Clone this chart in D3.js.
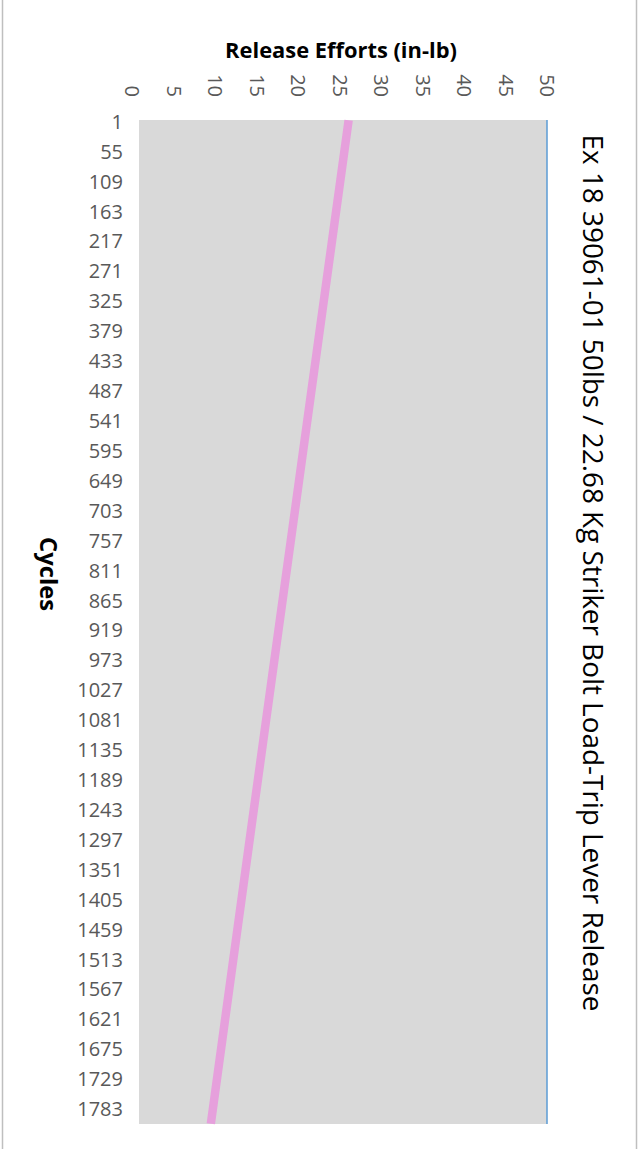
<!DOCTYPE html>
<html>
<head>
<meta charset="utf-8">
<script src="https://cdn.jsdelivr.net/npm/d3@7"></script>
<style>
  html, body { margin: 0; padding: 0; background: #fff; }
  svg { display: block; }
  .tick_lbl { font-family: "Open Sans", sans-serif; font-size: 20px; fill: #595959; }
  .ax_title { font-family: "Open Sans", sans-serif; font-size: 20px; font-weight: bold; fill: #000; }
  .chart_title { font-family: "Open Sans", sans-serif; font-size: 20px; fill: #000; }
</style>
</head>
<body>
<div id="chart"></div>
<script>
"use strict";

// Data
// ----

var cycleCount = 1812;

var cycleLabels = [1, 55, 109, 163, 217, 271, 325, 379, 433, 487, 541, 595,
  649, 703, 757, 811, 865, 919, 973, 1027, 1081, 1135, 1189, 1243, 1297,
  1351, 1405, 1459, 1513, 1567, 1621, 1675, 1729, 1783];

var effortTicks = [0, 5, 10, 15, 20, 25, 30, 35, 40, 45, 50];

// release effort, at a few cycles
var cycles  = [1, 687, 1264, 1812];
var efforts = [26.1, 19.8, 14.5, 9.5];

var title = "Ex 18 39061-01 50lbs / 22.68 Kg Striker Bolt Load-Trip Lever Release";


// Sizing
// ------

var W = 638, H = 1149;
var plot = { left: 139, right: 547, top: 120, bottom: 1124 };

var svg = d3.select("#chart").append("svg")
    .attr("width", W)
    .attr("height", H);


// Scales

var x = d3.scaleLinear().domain([0, 50]).range([132, plot.right]);
var y = d3.scaleLinear().domain([0.5, cycleCount + 0.5]).range([plot.top, plot.bottom]);


// fit a text element to a given length by changing its font size
function fit(sel, len) {
  var n = sel.node(),
      fs = parseFloat(getComputedStyle(n).fontSize);
  sel.style("font-size", (fs * len / n.getComputedTextLength()) + "px");
}


// Chart border (only the sides show)

svg.append("line").attr("x1", 2.5).attr("x2", 2.5).attr("y1", 0).attr("y2", H)
    .style("stroke", "#bfbfbf").style("stroke-width", 1.5);
svg.append("line").attr("x1", 636.5).attr("x2", 636.5).attr("y1", 0).attr("y2", H)
    .style("stroke", "#bfbfbf").style("stroke-width", 1.5);


// Plot area

svg.append("rect")
    .attr("x", plot.left)
    .attr("y", plot.top)
    .attr("width", plot.right - plot.left)
    .attr("height", plot.bottom - plot.top)
    .style("fill", "#d9d9d9");

// category axis line
svg.append("line")
    .attr("x1", x(50)).attr("x2", x(50))
    .attr("y1", plot.top).attr("y2", plot.bottom)
    .style("stroke", "#5b9bd5")
    .style("stroke-width", 1.5);


// Value axis (top, labels turned)

svg.append("g")
    .selectAll("text")
    .data(effortTicks)
    .join("text")
    .attr("class", "tick_lbl")
    .attr("text-anchor", "end")
    .attr("dy", "0.35em")
    .attr("transform", function(d) { return "translate(" + x(d) + ",97) rotate(90)"; })
    .text(function(d) { return d; });


// Category axis (left)

svg.append("g")
    .selectAll("text")
    .data(cycleLabels)
    .join("text")
    .attr("class", "tick_lbl")
    .attr("text-anchor", "end")
    .attr("x", 123)
    .attr("y", function(d) { return y(d) + 1.5; })
    .attr("dy", "0.35em")
    .text(function(d) { return d; });


// Titles

var t1 = svg.append("text")
    .attr("class", "ax_title")
    .attr("text-anchor", "middle")
    .attr("x", 341)
    .attr("y", 58)
    .text("Release Efforts (in-lb)");
fit(t1, 232);

var t2 = svg.append("text")
    .attr("class", "ax_title")
    .attr("text-anchor", "middle")
    .attr("dy", "0.35em")
    .attr("transform", "translate(48,574) rotate(90)")
    .text("Cycles");
fit(t2, 74);

var t3 = svg.append("text")
    .attr("class", "chart_title")
    .attr("text-anchor", "middle")
    .attr("dy", "0.35em")
    .attr("transform", "translate(593,573) rotate(90)")
    .text(title);
fit(t3, 877);


// Curve

var pts = cycles.map(function(c, i) { return [c, efforts[i]]; });

svg.append("path")
    .datum(pts)
    .attr("d", d3.line()
        .x(function(d) { return x(d[1]); })
        .y(function(d) { return y(d[0]); }))
    .style("fill", "none")
    .style("stroke", "#e6a0dc")
    .style("stroke-width", 8.5);

</script>
</body>
</html>
